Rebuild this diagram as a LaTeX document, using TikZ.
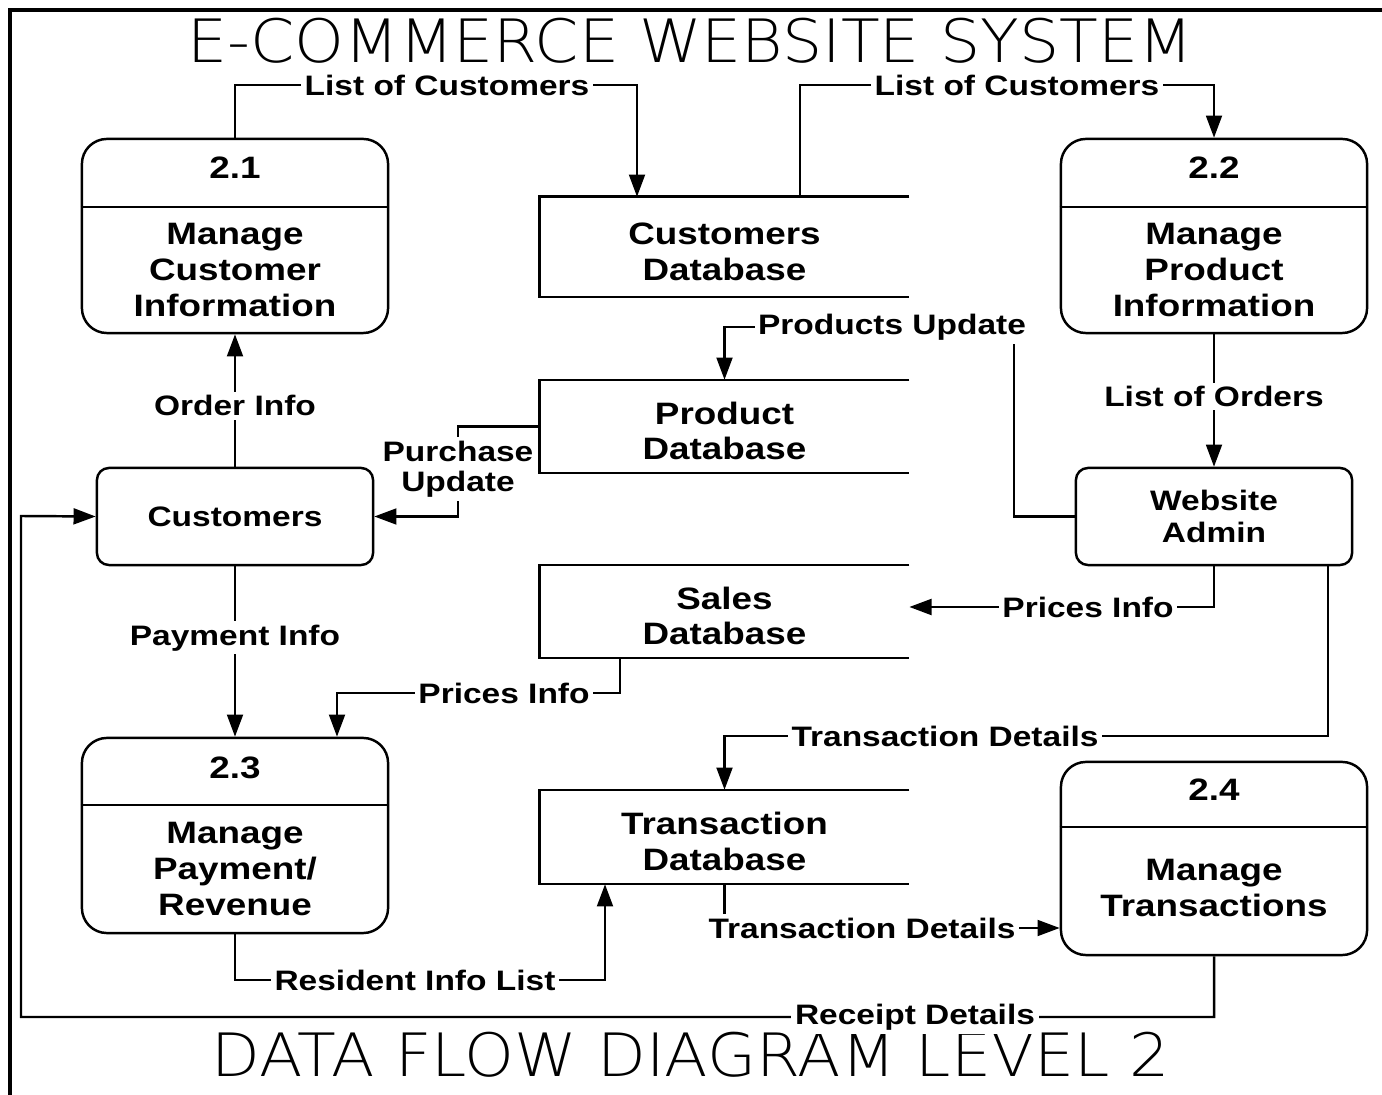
\documentclass[tikz,border=0pt]{standalone}
\usepackage{fontspec}
\usetikzlibrary{arrows.meta}
\newfontfamily\dfdfont[FakeStretch=1.19]{Liberation Sans}
\newfontfamily\ttlfont[FakeStretch=1.06]{DejaVu Sans ExtraLight}

\begin{document}
\begin{tikzpicture}[x=0.01cm,y=-0.01cm,>={Triangle[length=6.3pt,width=4.5pt]},line width=0.7pt,
    proc/.style={rectangle,draw,rounded corners=0.25cm,minimum width=3.06cm,minimum height=1.94cm},
    hdr/.style={font=\dfdfont\bfseries\fontsize{8.8}{10.2}\selectfont},
    body/.style={align=center,font=\dfdfont\bfseries\fontsize{8.8}{10.2}\selectfont},
    ent/.style={rectangle,draw,rounded corners=0.12cm,minimum width=2.76cm,minimum height=0.97cm,
                align=center,font=\dfdfont\bfseries\fontsize{8}{9.1}\selectfont},
    store/.style={minimum width=3.67cm},
    lbl/.style={fill=white,inner sep=1pt,align=center,font=\dfdfont\bfseries\fontsize{8}{8.5}\selectfont},
    ttl/.style={inner sep=0pt,font=\ttlfont\fontsize{17}{19}\selectfont}]

  \useasboundingbox (0,0) rectangle (1382,1095);
  \draw[line width=0.04cm] (8,10) -- (1382,10) (10,10) -- (10,1095);

  \node[ttl] (top) at (690,41) {E-COMMERCE WEBSITE SYSTEM};
  \node[ttl] (bottom) at (691,1055) {DATA FLOW DIAGRAM LEVEL 2};

  % processes
  \node[proc] (p21) at (235,236) {};
  \node[proc] (p22) at (1214,236) {};
  \node[proc,minimum height=1.95cm] (p23) at (235,835.5) {};
  \node[proc,minimum height=1.93cm] (p24) at (1214,858.5) {};
  \foreach \p/\d in {p21/0.69,p22/0.69,p23/0.68,p24/0.66}
    \draw ([yshift=-\d cm]\p.north west) -- ([yshift=-\d cm]\p.north east);

  \node[hdr] at (235,168) {2.1};
  \node[body] at (235,270) {Manage\\Customer\\Information};
  \node[hdr] at (1214,168) {2.2};
  \node[body] at (1214,270) {Manage\\Product\\Information};
  \node[hdr] at (235,768) {2.3};
  \node[body] at (235,869) {Manage\\Payment/\\Revenue};
  \node[hdr] at (1214,790) {2.4};
  \node[body] at (1214,888) {Manage\\Transactions};

  % external entities
  \node[ent] (cus) at (235,516.5) {Customers};
  \node[ent] (adm) at (1214,516.5) {Website\\Admin};

  % data stores
  \node[store,minimum height=0.98cm] (cdb) at (724.5,247) {};
  \node[store,minimum height=0.91cm] (pdb) at (724.5,426.5) {};
  \node[store,minimum height=0.91cm] (sdb) at (724.5,611.5) {};
  \node[store,minimum height=0.92cm] (tdb) at (724.5,837) {};
  \foreach \s/\t in {cdb/Customers,pdb/Product,sdb/Sales,tdb/Transaction}{
    \draw (\s.north east) -- (\s.north west) -- (\s.south west) -- (\s.south east);
    \node[body] at ([yshift=-0.045cm]\s.center) {\t\\Database};
  }

  % flows
  \draw[->] (p21.north) |- (447,85) node[lbl] {List of Customers} -| (cdb.north -| 637,0);
  \draw[->] (cdb.north -| 800,0) |- (1017,85) node[lbl] {List of Customers} -| (p22.north);
  \draw[->] (p22.south) -- node[lbl,pos=0.47] {List of Orders} (adm.north);
  \draw[->] (adm.west) -| (1014,327) -- (892,327) node[lbl] {Products Update} -| (pdb.north);
  \draw[->] (pdb.west) -| (458,469) node[lbl] {Purchase\\Update} |- (cus.east);
  \draw[->] (cus.north) -- node[lbl,pos=0.46] {Order Info} (p21.south);
  \draw[->] (cus.south) -- node[lbl,pos=0.42] {Payment Info} (p23.north);
  \draw[->] (adm.south) |- (1088,607) node[lbl] {Prices Info} -- (sdb.east |- 0,607);
  \draw[->] (sdb.south -| 620,0) |- (504,693) node[lbl] {Prices Info} -| (p23.north -| 337,0);
  \draw[->] (adm.south -| 1328,0) |- (945,736) node[lbl] {Transaction Details} -| (tdb.north);
  \draw[->] (tdb.south) |- (862,928) node[lbl] {Transaction Details} -- (p24.west |- 0,928);
  \draw[->] (p23.south) |- (415,980) node[lbl] {Resident Info List} -| (tdb.south -| 605,0);
  \draw[->] (p24.south) |- (915,1017) node[lbl] {Receipt Details} -| (21,516) -- (cus.west);
\end{tikzpicture}
\end{document}
